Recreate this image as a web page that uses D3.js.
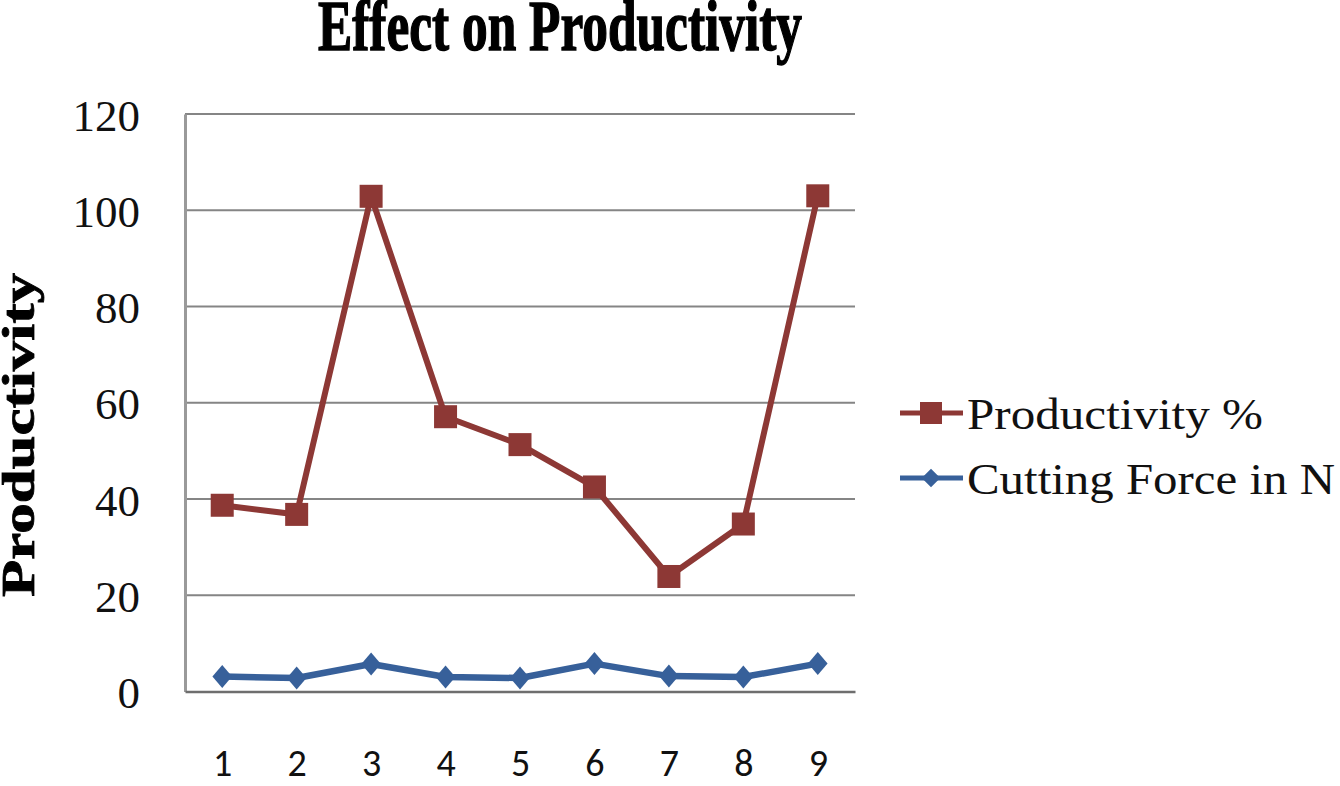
<!DOCTYPE html>
<html>
<head>
<meta charset="utf-8">
<script src="https://cdn.jsdelivr.net/npm/d3@7"></script>
<style>
  body { margin: 0; background: #fff; }
  svg { display: block; }
</style>
</head>
<body>
<svg id="chart"></svg>
<script>
let categories = ["1", "2", "3", "4", "5", "6", "7", "8", "9"];
let productivity = [38.7, 36.8, 102.9, 57.1, 51.3, 42.5, 23.9, 34.8, 103];
let cuttingForce = [3.1, 2.8, 5.7, 3.0, 2.8, 5.8, 3.2, 3.0, 5.8];
let yTicks = [0, 20, 40, 60, 80, 100, 120];

let width = 1340;
let height = 786;
let plotLeft = 185;
let plotRight = 855;
let plotTop = 114;
let plotBottom = 691.5;

let red = "#8D3835";
let blue = "#37609A";
let serif = "'Liberation Serif', 'Times New Roman', serif";

let svg = d3.select("#chart").attr("width", width).attr("height", height);

let xScale = d3.scalePoint().domain(categories).range([plotLeft, plotRight]).padding(0.5);
let yScale = d3.scaleLinear().domain([0, 120]).range([plotBottom, plotTop]);

// gridlines
svg.append("g")
  .selectAll("line")
  .data(yTicks.filter((d) => d > 0))
  .enter()
  .append("line")
  .attr("x1", plotLeft)
  .attr("x2", plotRight)
  .attr("y1", (d) => yScale(d))
  .attr("y2", (d) => yScale(d))
  .attr("stroke", "#858585")
  .attr("stroke-width", 2);

// axes
let yAxis = d3.axisLeft(yScale).tickValues(yTicks).tickSize(0).tickPadding(45);
let gy = svg.append("g").attr("transform", "translate(" + plotLeft + ",0)").call(yAxis);
gy.select(".domain").attr("stroke", "#9a9a9a").attr("stroke-width", 3);
gy.selectAll("text")
  .attr("font-family", serif)
  .attr("font-size", 45)
  .attr("fill", "#111")
  .attr("dy", "0.36em");

let xAxis = d3.axisBottom(xScale).tickSize(0).tickPadding(58);
let gx = svg.append("g").attr("transform", "translate(0," + plotBottom + ")").call(xAxis);
gx.select(".domain").attr("stroke", "#6e6e6e").attr("stroke-width", 2.5);
gx.selectAll("text")
  .attr("font-family", "Carlito, Calibri, 'Liberation Sans', sans-serif")
  .attr("font-size", 38)
  .attr("fill", "#111");

// series
let line = d3.line()
  .x((d, i) => xScale(categories[i]))
  .y((d) => yScale(d));

svg.append("path")
  .datum(cuttingForce)
  .attr("d", line)
  .attr("fill", "none")
  .attr("stroke", blue)
  .attr("stroke-width", 6.5)
  .attr("stroke-linejoin", "round");

svg.append("g")
  .selectAll("path")
  .data(cuttingForce)
  .enter()
  .append("path")
  .attr("d", d3.symbol().type(d3.symbolDiamond2).size(290))
  .attr("transform", (d, i) => "translate(" + xScale(categories[i]) + "," + yScale(d) + ") scale(0.92,1.08)")
  .attr("fill", blue);

svg.append("path")
  .datum(productivity)
  .attr("d", line)
  .attr("fill", "none")
  .attr("stroke", red)
  .attr("stroke-width", 6)
  .attr("stroke-linejoin", "round");

svg.append("g")
  .selectAll("rect")
  .data(productivity)
  .enter()
  .append("rect")
  .attr("x", (d, i) => xScale(categories[i]) - 11.5)
  .attr("y", (d) => yScale(d) - 11.5)
  .attr("width", 23)
  .attr("height", 23)
  .attr("fill", red);

// title
svg.append("text")
  .attr("x", 560)
  .attr("y", 50)
  .attr("text-anchor", "middle")
  .attr("font-family", serif)
  .attr("font-weight", "bold")
  .attr("font-size", 72)
  .attr("stroke", "#000")
  .attr("stroke-width", 1.5)
  .attr("textLength", 484)
  .attr("lengthAdjust", "spacingAndGlyphs")
  .text("Effect on Productivity");

// y axis title
svg.append("text")
  .attr("transform", "translate(34,435) rotate(-90)")
  .attr("text-anchor", "middle")
  .attr("font-family", serif)
  .attr("font-weight", "bold")
  .attr("font-size", 46)
  .attr("stroke", "#000")
  .attr("stroke-width", 0.8)
  .attr("textLength", 324)
  .attr("lengthAdjust", "spacingAndGlyphs")
  .text("Productivity");

// legend
let legendItems = [
  { name: "Productivity %", color: red, shape: "square", y: 413, len: 296 },
  { name: "Cutting Force in N", color: blue, shape: "diamond", y: 478, len: 368 }
];

let lg = svg.append("g");
legendItems.forEach((item) => {
  lg.append("line")
    .attr("x1", 900)
    .attr("x2", 963)
    .attr("y1", item.y)
    .attr("y2", item.y)
    .attr("stroke", item.color)
    .attr("stroke-width", 5);
  if (item.shape === "square") {
    lg.append("rect")
      .attr("x", 920)
      .attr("y", item.y - 11)
      .attr("width", 22)
      .attr("height", 22)
      .attr("fill", item.color);
  } else {
    lg.append("path")
      .attr("d", d3.symbol().type(d3.symbolDiamond2).size(220))
      .attr("transform", "translate(931," + item.y + ")")
      .attr("fill", item.color);
  }
  lg.append("text")
    .attr("x", 967)
    .attr("y", item.y + 16)
    .attr("font-family", serif)
    .attr("font-size", 44)
    .attr("fill", "#111")
    .attr("textLength", item.len)
    .attr("lengthAdjust", "spacingAndGlyphs")
    .text(item.name);
});
</script>
</body>
</html>
